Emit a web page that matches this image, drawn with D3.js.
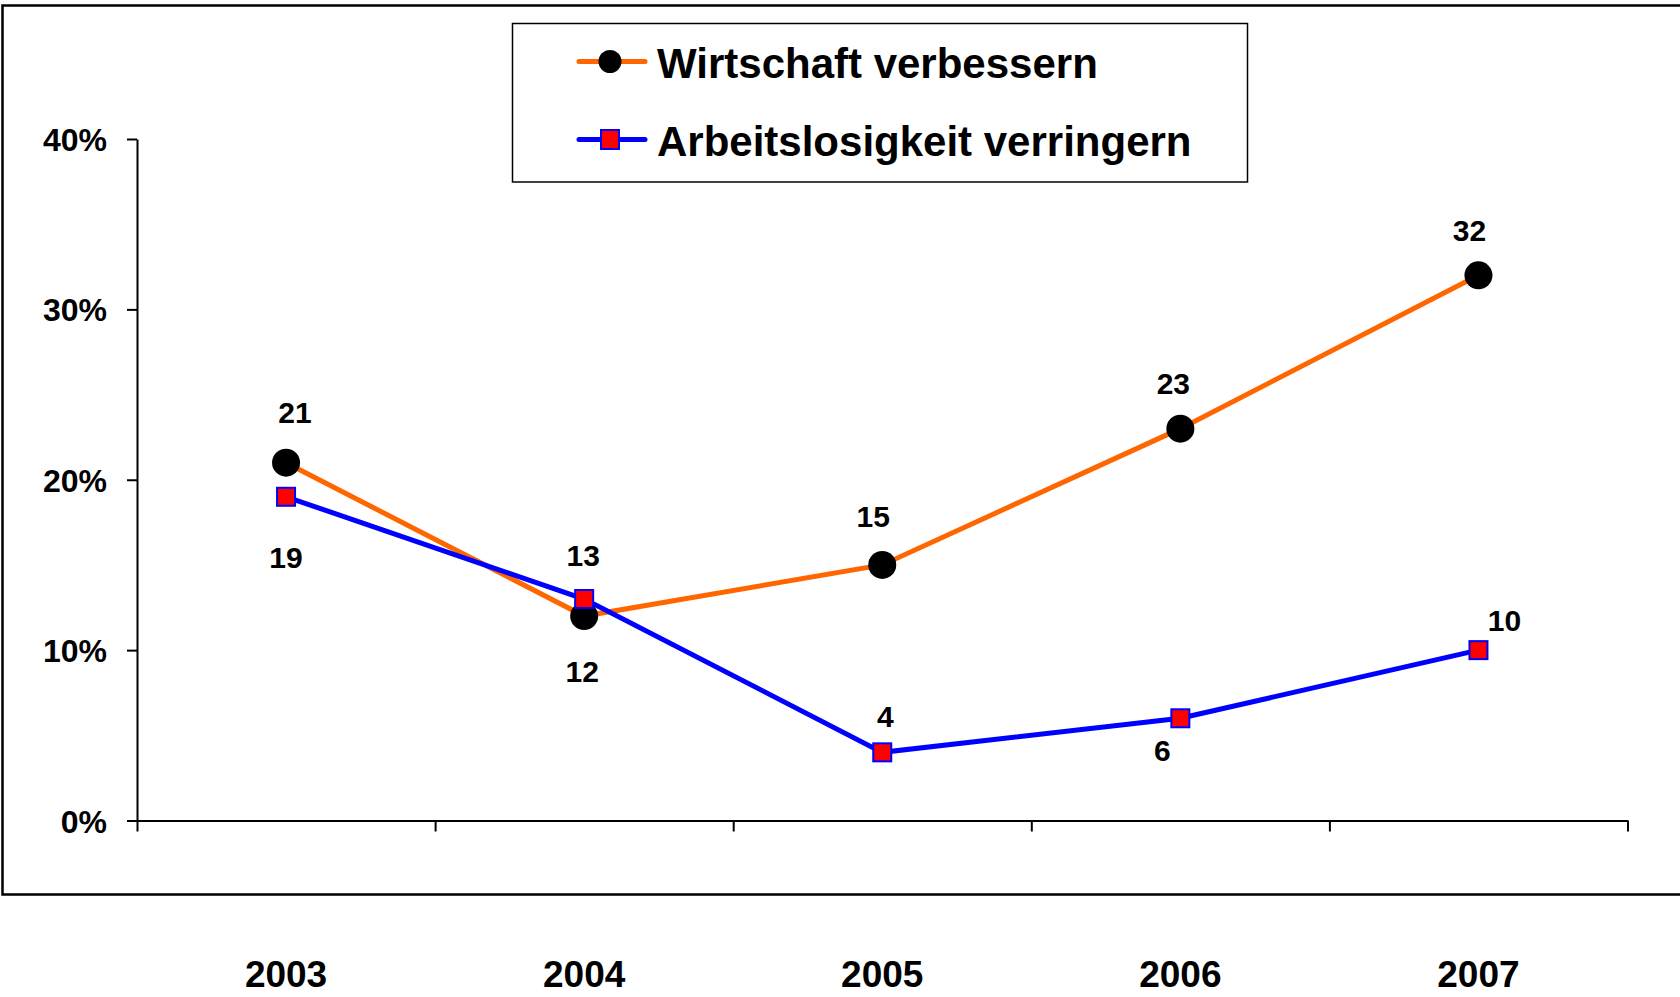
<!DOCTYPE html>
<html>
<head>
<meta charset="utf-8">
<script src="https://cdn.jsdelivr.net/npm/d3@7"></script>
<style>
    html, body { margin: 0; padding: 0; background: #fff; overflow: hidden; }
    text { font-family: "Liberation Sans", Arial, Helvetica, sans-serif; font-weight: bold; }
</style>
</head>
<body>
<div id="chart1"></div>
<script>
var years = ['2003', '2004', '2005', '2006', '2007'];
var wirtschaft = [21, 12, 15, 23, 32];
var arbeitslosigkeit = [19, 13, 4, 6, 10];
var yTicks = [0, 10, 20, 30, 40];
var seriesNames = ['Wirtschaft verbessern', 'Arbeitslosigkeit verringern'];

// where the value labels sit relative to their point (px)
var nudgeW = [[9, -51], [-2, 55], [-9, -49], [-7, -46], [-9, -45]];
var nudgeA = [[0, 60], [-1, -44], [3, -36], [-18, 32], [26, -30]];

(function(d3) {
    var W = 1680, H = 997;
    var left = 137, right = 1627.5, top = 139, bottom = 820.5;

    var svg = d3.select('#chart1')
        .append('svg')
        .attr('width', W)
        .attr('height', H);

    // outer frame
    svg.append('rect')
        .attr('x', 2.5).attr('y', 5.5)
        .attr('width', 1700).attr('height', 889)
        .attr('fill', 'none')
        .attr('stroke', '#000')
        .attr('stroke-width', 2.5);

    var x = d3.scaleBand().domain(years).range([left, right]);
    var xEdge = d3.scaleLinear().domain([0, years.length]).range([left, right]);
    var y = d3.scaleLinear().domain([0, 40]).range([bottom, top]);

    // y axis
    var yAxis = svg.append('g')
        .attr('transform', 'translate(' + left + ',0)')
        .call(d3.axisLeft(y)
            .tickValues(yTicks)
            .tickSize(10)
            .tickSizeOuter(0)
            .tickPadding(20)
            .tickFormat(function(d) { return d + '%'; }));
    yAxis.select('.domain').attr('stroke-width', 2);
    yAxis.selectAll('.tick line').attr('stroke-width', 2);
    yAxis.selectAll('.tick text')
        .attr('font-size', 32)
        .attr('font-family', '"Liberation Sans", Arial, sans-serif')
        .attr('font-weight', 'bold')
        .attr('fill', '#000')
        .attr('dy', '0.36em');

    // x axis with ticks between categories
    var xAxis = svg.append('g')
        .attr('transform', 'translate(0,' + bottom + ')')
        .call(d3.axisBottom(xEdge)
            .tickValues(d3.range(years.length + 1))
            .tickSize(11)
            .tickSizeOuter(0)
            .tickFormat(''));
    xAxis.select('.domain').attr('stroke-width', 2);
    xAxis.selectAll('.tick line').attr('stroke-width', 2);

    // category labels below the frame
    svg.selectAll('text.year')
        .data(years)
        .enter()
        .append('text')
        .attr('class', 'year')
        .attr('x', function(d) { return x(d) + x.bandwidth() / 2; })
        .attr('y', 987)
        .attr('text-anchor', 'middle')
        .attr('font-size', 37)
        .text(function(d) { return d; });

    var cx = function(d, i) { return x(years[i]) + x.bandwidth() / 2; };
    var line = d3.line()
        .x(function(d, i) { return cx(d, i); })
        .y(function(d) { return y(d); });

    // orange series
    svg.append('path')
        .datum(wirtschaft)
        .attr('d', line)
        .attr('fill', 'none')
        .attr('stroke', '#FF6600')
        .attr('stroke-width', 5);

    // blue series
    svg.append('path')
        .datum(arbeitslosigkeit)
        .attr('d', line)
        .attr('fill', 'none')
        .attr('stroke', '#0000FF')
        .attr('stroke-width', 5);

    svg.selectAll('circle.mw')
        .data(wirtschaft)
        .enter()
        .append('circle')
        .attr('class', 'mw')
        .attr('cx', cx)
        .attr('cy', function(d) { return y(d); })
        .attr('r', 14)
        .attr('fill', '#000');

    svg.selectAll('rect.ma')
        .data(arbeitslosigkeit)
        .enter()
        .append('rect')
        .attr('class', 'ma')
        .attr('x', function(d, i) { return cx(d, i) - 9; })
        .attr('y', function(d) { return y(d) - 9; })
        .attr('width', 18)
        .attr('height', 18)
        .attr('fill', '#FF0000')
        .attr('stroke', '#0000FF')
        .attr('stroke-width', 2);

    function labels(cls, values, nudge) {
        svg.selectAll('text.' + cls)
            .data(values)
            .enter()
            .append('text')
            .attr('class', cls)
            .attr('x', function(d, i) { return cx(d, i) + nudge[i][0]; })
            .attr('y', function(d, i) { return y(d) + nudge[i][1] + 11; })
            .attr('text-anchor', 'middle')
            .attr('font-size', 30)
            .text(function(d) { return d; });
    }
    labels('lw', wirtschaft, nudgeW);
    labels('la', arbeitslosigkeit, nudgeA);

    // legend
    var legend = svg.append('g');
    legend.append('rect')
        .attr('x', 512.5).attr('y', 23.5)
        .attr('width', 735).attr('height', 158.5)
        .attr('fill', '#fff')
        .attr('stroke', '#000')
        .attr('stroke-width', 1.5);

    var rows = [61.5, 139.5];
    var strokes = ['#FF6600', '#0000FF'];
    rows.forEach(function(ry, i) {
        legend.append('line')
            .attr('x1', 579).attr('x2', 645)
            .attr('y1', ry).attr('y2', ry)
            .attr('stroke', strokes[i])
            .attr('stroke-width', 5)
            .attr('stroke-linecap', 'round');
        if (i === 0) {
            legend.append('circle')
                .attr('cx', 610).attr('cy', ry)
                .attr('r', 11.5)
                .attr('fill', '#000');
        } else {
            legend.append('rect')
                .attr('x', 601).attr('y', ry - 9.5)
                .attr('width', 18).attr('height', 19)
                .attr('fill', '#FF0000')
                .attr('stroke', '#0000FF')
                .attr('stroke-width', 2);
        }
        legend.append('text')
            .attr('x', 657)
            .attr('y', ry + 16)
            .attr('font-size', 42)
            .text(seriesNames[i]);
    });
}(window.d3));
</script>
</body>
</html>
